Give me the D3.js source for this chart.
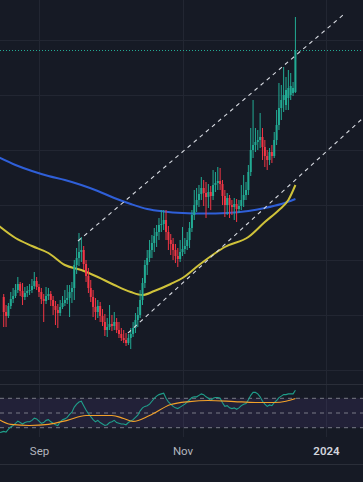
<!DOCTYPE html>
<html><head><meta charset="utf-8">
<script src="https://cdn.jsdelivr.net/npm/d3@7/dist/d3.min.js"></script>
<style>html,body{margin:0;padding:0;background:#161a25;overflow:hidden}svg{display:block}</style>
</head><body><svg id="c" width="363" height="482"></svg>
<script>
// ---------- DATA ----------
const firstDay = "2023-08-17";
const open = [10.3,8.8,8.4,9.4,10.1,10.4,11.0,11.6,10.9,10.3,
10.7,10.9,11.0,11.4,11.9,11.3,10.8,10.1,9.9,10.4,
10.6,10.0,9.4,9.0,8.7,9.3,9.7,10.0,10.2,10.8,
11.2,13.5,14.2,14.8,15.0,13.6,12.4,11.2,10.3,9.3,
8.8,9.4,8.4,7.8,7.0,7.3,7.6,7.4,7.8,7.0,
6.6,6.2,6.0,5.7,6.2,6.6,7.2,8.0,8.5,10.0,
11.7,13.5,14.2,15.0,15.7,16.4,16.8,17.5,17.6,18.0,
16.8,16.0,15.6,15.0,14.4,14.1,14.8,15.1,15.4,16.0,
17.2,18.5,19.5,20.0,20.6,21.2,20.7,20.3,20.8,20.4,
21.5,21.7,21.9,21.6,20.4,19.5,20.2,19.5,19.3,19.6,
19.1,19.4,20.0,20.5,21.0,22.8,25.0,25.5,25.8,26.0,
26.3,25.3,24.4,24.0,24.8,24.4,26.0,27.5,29.2,30.0,
29.5,30.2,30.5,30.7,30.8];
const high = [10.6,9.5,9.7,10.8,11.2,11.6,12.3,11.8,11.7,11.3,
11.4,11.6,12.1,12.8,12.3,11.6,11.2,10.6,11.3,11.2,
10.9,10.4,9.9,9.6,10.0,10.4,11.0,11.5,11.5,11.8,
14.0,15.2,16.7,16.3,15.4,14.0,13.2,12.0,11.0,10.2,
10.0,9.8,9.1,8.6,8.2,9.5,8.5,8.8,8.2,7.8,
7.2,7.0,6.7,6.6,7.2,7.8,8.7,9.3,11.0,12.2,
14.0,15.0,16.0,16.5,17.2,17.5,18.2,19.0,19.0,19.0,
17.4,16.6,16.2,15.6,15.2,16.0,17.3,16.2,16.8,17.8,
19.0,21.0,21.2,21.5,22.3,22.0,21.8,21.6,21.4,23.0,
22.8,23.3,23.2,22.0,21.0,20.7,20.5,20.0,20.2,20.1,
20.0,21.5,22.5,21.8,23.5,27.2,30.0,27.2,27.0,28.7,
27.2,26.0,25.0,25.2,25.5,26.8,29.0,31.7,31.5,33.3,
32.3,33.0,32.7,31.8,38.3];
const low = [7.3,7.3,8.2,9.1,9.7,10.2,10.7,10.4,9.5,10.0,
10.3,10.5,10.7,11.1,11.0,10.3,9.6,7.8,9.6,10.0,
9.4,8.5,7.5,7.2,8.4,9.1,9.4,9.6,8.3,9.7,
10.0,12.6,13.4,13.8,13.0,11.8,10.7,9.8,8.3,8.0,
8.2,7.8,7.4,6.4,6.3,7.0,6.9,7.0,6.7,6.2,
5.9,5.7,5.4,5.5,5.1,6.3,6.7,7.3,8.2,9.5,
11.2,12.5,13.8,14.2,14.8,15.3,16.0,16.8,17.0,16.0,
15.0,14.5,14.0,13.7,13.3,13.8,14.4,14.6,15.0,15.2,
16.8,18.0,18.8,19.3,20.0,19.4,18.2,19.2,19.0,20.0,
20.8,21.0,21.0,19.5,18.3,18.5,18.2,18.5,18.0,17.8,
18.7,19.0,19.3,20.0,20.5,22.4,24.2,24.8,25.0,25.2,
24.0,23.3,23.0,23.5,23.7,24.2,25.5,27.0,28.0,28.8,
29.0,29.0,30.0,30.4,30.7];
const close = [8.8,8.4,9.4,10.1,10.4,11.0,11.6,10.9,10.3,10.7,
10.9,11.0,11.4,11.9,11.3,10.8,10.1,9.9,10.4,10.6,
10.0,9.4,9.0,8.7,9.3,9.7,10.0,10.2,10.8,11.2,
13.5,14.2,14.8,15.0,13.6,12.4,11.2,10.3,9.3,8.8,
9.4,8.4,7.8,7.0,7.3,7.6,7.4,7.8,7.0,6.6,
6.2,6.0,5.7,6.2,6.6,7.2,8.0,8.5,10.0,11.7,
13.5,14.2,15.0,15.7,16.4,16.8,17.5,17.6,18.0,16.8,
16.0,15.6,15.0,14.4,14.1,14.8,15.1,15.4,16.0,17.2,
18.5,19.5,20.0,20.6,21.2,20.7,20.3,20.8,20.4,21.5,
21.7,21.9,21.6,20.4,19.5,20.2,19.5,19.3,19.6,19.1,
19.4,20.0,20.5,21.0,22.8,25.0,25.5,25.8,26.0,26.3,
25.3,24.4,24.0,24.8,24.4,26.0,27.5,29.2,30.0,30.5,
31.0,31.2,31.4,31.2,34.95];

// moving averages on price (date, value)
const maBlue = [["2023-08-15",24.25],["2023-08-22",23.5],["2023-08-29",22.9],["2023-09-05",22.4],
["2023-09-12",22.0],["2023-09-19",21.5],["2023-09-26",20.9],["2023-10-03",20.2],["2023-10-10",19.6],
["2023-10-17",19.1],["2023-10-24",18.85],["2023-11-01",18.7],["2023-11-10",18.65],["2023-11-20",18.7],
["2023-11-29",18.9],["2023-12-06",19.2],["2023-12-13",19.6],["2023-12-19",20.1]];
const maYellow = [["2023-08-15",17.4],["2023-08-22",16.2],["2023-08-29",15.4],["2023-09-05",14.7],
["2023-09-12",13.5],["2023-09-19",13.0],["2023-09-26",12.3],["2023-10-03",11.5],["2023-10-10",10.8],
["2023-10-15",10.5],["2023-10-20",10.9],["2023-10-27",11.6],["2023-11-01",12.2],["2023-11-08",13.5],
["2023-11-15",14.7],["2023-11-19",15.3],["2023-11-29",16.3],["2023-12-06",17.8],["2023-12-12",19.0],
["2023-12-16",20.0],["2023-12-19",21.5]];

// channel drawing (date, price)
const channelUpper = [["2023-09-17T14:00Z",15.9],["2024-01-08T06:00Z",38.5]];
const channelLower = [["2023-10-08T20:00Z",6.7],["2024-01-16T18:00Z",28.2]];

// RSI (daily from rsiStart) and its moving average
const rsiStart = "2023-08-15";
const rsi = [23,24,
25,24,28,31,33,36,39,37,35,37,
38,38,40,43,42,39,36,37,40,41,
38,36,34,33,38,41,42,44,48,51,
58,62,65,66,60,54,49,45,41,38,
40,37,35,33,34,37,38,40,37,36,
35,35,34,37,39,41,44,47,53,57,
59,60,62,66,70,73,75,76,77,70,
65,62,59,57,56,58,60,62,65,68,
71,72,72,74,76,75,72,70,67,70,
71,71,70,64,59,60,57,56,57,55,
57,60,62,63,68,74,78,78,76,72,
66,62,59,61,60,64,67,71,73,75,
75,76,76,76,81];
const rsiMA = [["2023-08-15",41],["2023-08-20",34.5],["2023-08-28",33],["2023-09-05",34.5],
["2023-09-13",40],["2023-09-21",46.6],["2023-10-02",46.6],["2023-10-07",42.5],["2023-10-11",38.5],
["2023-10-18",46.5],["2023-10-27",61.5],["2023-11-04",65.6],["2023-11-12",67],["2023-11-23",65.6],
["2023-12-02",64.3],["2023-12-10",64.3],["2023-12-15",66],["2023-12-19",69.7]];
const rsiLevels = [70, 50, 30];

const gridPrices = [3, 8.5, 14, 19.5, 25, 30.5, 36];
const timeTicks = ["2023-09-01","2023-11-01","2024-01-01"];
const timeLabels = ["Sep","Nov","2024"];

// ---------- CHART ----------
const W = 363, H = 482;
const svg = d3.select("#c");
const P = s => new Date(s.length === 10 ? s + "T00:00:00Z" : s);

const x = d3.scaleUtc().domain([P("2023-09-01"), P("2024-01-01")]).range([39, 326]);
const y = d3.scaleLinear().domain([0, 40]).range([400, 0]);
const yr = d3.scaleLinear().domain([30, 70]).range([427.7, 398.3]);

const C = {bg:"#161a25", grid:"#222632", sep:"#2a2e39", up:"#22ab94", down:"#f23645",
  blue:"#2f5fd8", yellow:"#cfc23a", rsi:"#1f9e8a", rsiMA:"#f2a12a"};

svg.append("rect").attr("width", W).attr("height", H).attr("fill", C.bg);

// grid
svg.append("g").selectAll("line").data(gridPrices).join("line")
  .attr("x1", 0).attr("x2", W).attr("y1", d => Math.round(y(d)) + 0.5).attr("y2", d => Math.round(y(d)) + 0.5)
  .attr("stroke", C.grid).attr("stroke-width", 1);
svg.append("g").selectAll("line").data(timeTicks).join("line")
  .attr("x1", d => Math.round(x(P(d))) + 0.5).attr("x2", d => Math.round(x(P(d))) + 0.5)
  .attr("y1", 0).attr("y2", 437).attr("stroke", C.grid).attr("stroke-width", 1);

// pane separators
[384.5, 464.5].forEach(v => svg.append("line").attr("x1", 0).attr("x2", W).attr("y1", v).attr("y2", v)
  .attr("stroke", C.sep).attr("stroke-width", 1));

// main pane
const main = svg.append("g");
main.append("clipPath").attr("id", "mc").append("rect").attr("width", W).attr("height", 384);
const mg = main.append("g").attr("clip-path", "url(#mc)");

const lineP = d3.line().x(d => x(P(d[0]))).y(d => y(d[1])).curve(d3.curveMonotoneX);
mg.append("path").attr("d", lineP(maBlue)).attr("fill", "none").attr("stroke", C.blue).attr("stroke-width", 2);
mg.append("path").attr("d", lineP(maYellow)).attr("fill", "none").attr("stroke", C.yellow).attr("stroke-width", 2);

// candles
const start = P(firstDay);
const candles = close.map((c, i) => ({date: d3.utcDay.offset(start, i), o: open[i], h: high[i], l: low[i], c}));
const bw = 2.0;
const cg = mg.append("g");
cg.selectAll("line").data(candles).join("line")
  .attr("x1", d => x(d.date)).attr("x2", d => x(d.date))
  .attr("y1", d => y(d.h)).attr("y2", d => y(d.l))
  .attr("stroke", d => d.c >= d.o ? C.up : C.down).attr("stroke-width", 1);
cg.selectAll("rect").data(candles).join("rect")
  .attr("x", d => x(d.date) - bw / 2).attr("width", bw)
  .attr("y", d => y(Math.max(d.o, d.c)))
  .attr("height", d => Math.max(1, Math.abs(y(d.o) - y(d.c))))
  .attr("fill", d => d.c >= d.o ? C.up : C.down);

// channel lines
const lineC = d3.line().x(d => x(P(d[0]))).y(d => y(d[1]));
[channelUpper, channelLower].forEach(ch => mg.append("path").attr("d", lineC(ch))
  .attr("fill", "none").attr("stroke", "#d8dbe2").attr("stroke-width", 1.1).attr("stroke-dasharray", "4,4"));

// last price line
const last = close[close.length - 1];
mg.append("line").attr("x1", 0).attr("x2", W).attr("y1", y(last)).attr("y2", y(last))
  .attr("stroke", C.up).attr("stroke-width", 1).attr("stroke-dasharray", "1,2");

// RSI pane
const rg = svg.append("g");
rg.append("rect").attr("x", 0).attr("width", W).attr("y", yr(70)).attr("height", yr(30) - yr(70))
  .attr("fill", "rgba(126,87,194,0.12)");
rg.selectAll("line.lv").data(rsiLevels).join("line").attr("class", "lv")
  .attr("x1", 0).attr("x2", W).attr("y1", d => yr(d)).attr("y2", d => yr(d))
  .attr("stroke", "#787b86").attr("stroke-width", 1).attr("stroke-dasharray", "4,4");
const rStart = P(rsiStart);
const lineR = d3.line().x((d, i) => x(d3.utcDay.offset(rStart, i))).y(d => yr(d));
rg.append("path").attr("d", lineR(rsi)).attr("fill", "none").attr("stroke", C.rsi).attr("stroke-width", 1.1);
const lineRM = d3.line().x(d => x(P(d[0]))).y(d => yr(d[1])).curve(d3.curveMonotoneX);
rg.append("path").attr("d", lineRM(rsiMA)).attr("fill", "none").attr("stroke", C.rsiMA).attr("stroke-width", 1.2);

// time axis
const ax = svg.append("g").attr("transform", "translate(0,437)")
  .call(d3.axisBottom(x).tickValues(timeTicks.map(P)).tickFormat((d, i) => timeLabels[i]).tickSize(0).tickPadding(10));
ax.select(".domain").remove();
ax.selectAll("text").attr("font-family", "Roboto, 'Noto Sans', sans-serif").attr("font-size", 11.5)
  .attr("fill", (d, i) => i === 2 ? "#d1d4dc" : "#b2b5be")
  .attr("font-weight", (d, i) => i === 2 ? 600 : 400);
</script></body></html>
